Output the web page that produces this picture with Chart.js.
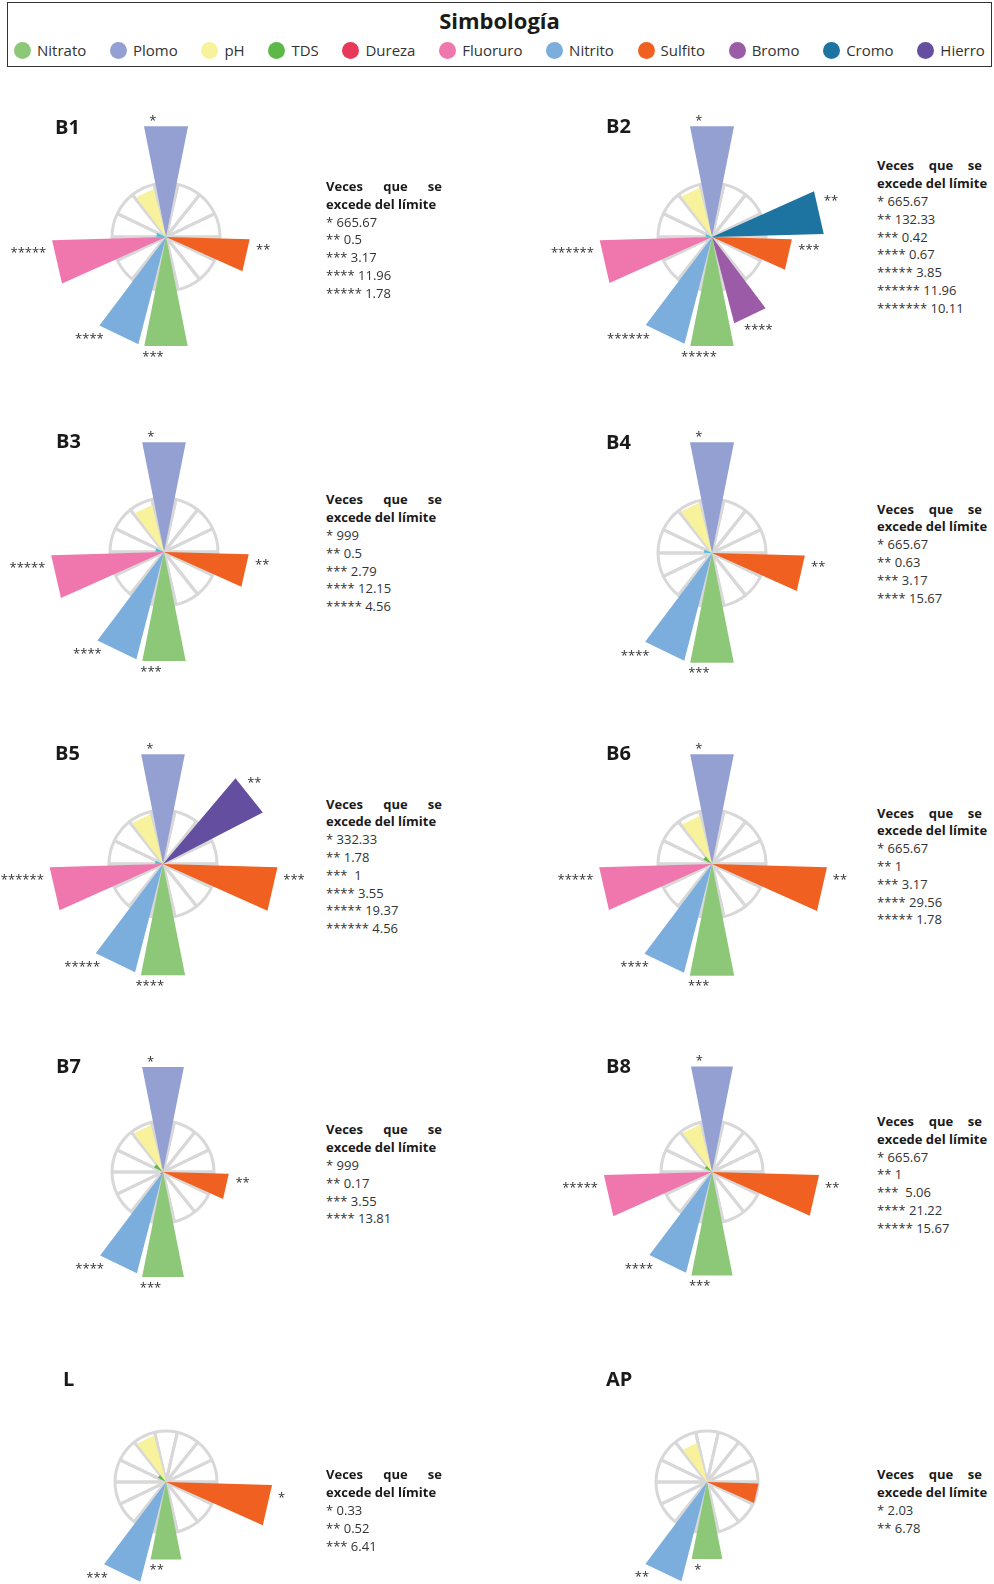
<!DOCTYPE html>
<html lang="es">
<head>
<meta charset="utf-8">
<script src="https://cdn.jsdelivr.net/npm/chart.js@4.4.1/dist/chart.umd.min.js"></script>
<style>
  html, body { margin:0; padding:0; background:#fff; }
  body { width:994px; height:1584px; position:relative; overflow:hidden; font-family:'Open Sans', sans-serif; color:#1a1a1a; }
  .legend { position:absolute; left:7px; top:2px; width:985px; height:65px; box-sizing:border-box; border:1.5px solid #333; }
  .legend .head { position:absolute; top:2px; width:100%; text-align:center; font-size:22px; font-weight:700; line-height:30px; }
  .legend .items { position:absolute; left:6px; right:6px; top:37px; display:flex; justify-content:space-between; }
  .item { display:flex; align-items:center; font-size:15px; line-height:20px; color:#333; }
  .dot { width:17px; height:17px; border-radius:50%; margin-right:6px; }
  canvas { position:absolute; z-index:1; }
  .ttl { position:absolute; font-size:20px; font-weight:700; line-height:24px; z-index:2; }
  .note { position:absolute; font-size:13px; line-height:17.8px; color:#333; z-index:2; white-space:pre; }
  .note .h { font-weight:700; color:#1a1a1a; }
  .note .j { text-align:justify; text-align-last:justify; white-space:normal; }
</style>
</head>
<body>
<div class="legend">
  <div class="head">Simbología</div>
  <div class="items" id="legendItems"></div>
</div>
<script>
// 14 sectors, clockwise from the top
const CATEGORIES = ['Plomo', '', 'Hierro', 'Cromo', 'Sulfito', '', 'Bromo', 'Nitrato', 'Nitrito', 'Dureza', 'Fluoruro', 'Otro', 'TDS', 'pH'];
const CAT_COLORS = ['#94a0d2', '#ffffff', '#644ea0', '#1d74a0', '#f06021', '#ffffff', '#9b5ba7', '#8dc878', '#7baddd', '#e8395b', '#ef77ad', '#46c2d4', '#5cb947', '#f8f29c'];

const LEGEND_NAMES = ['Nitrato','Plomo','pH','TDS','Dureza','Fluoruro','Nitrito','Sulfito','Bromo','Cromo','Hierro'];
const LEGEND_COLORS = ['#8dc878','#94a0d2','#f8f29c','#5cb947','#e8395b','#ef77ad','#7baddd','#f06021','#9b5ba7','#1d74a0','#644ea0'];

// radial length, grey circle = 1
const VALUES_B1 = [2.09,0,0,0,1.55,0,0,2.06,2.05,0,2.11,0.18,0,0.92];
const VALUES_B2 = [2.09,0,0,2.07,1.48,0,1.65,2.06,2.04,0,2.08,0.12,0,0.94];
const VALUES_B3 = [2.07,0,0,0,1.57,0,0,2.06,2.05,0,2.09,0.16,0,0.90];
const VALUES_B4 = [2.09,0,0,0,1.72,0,0,2.07,2.06,0,0,0.15,0,0.96];
const VALUES_B5 = [2.07,0,2.08,0,2.12,0,0,2.10,2.07,0,2.10,0.15,0,0.95];
const VALUES_B6 = [2.07,0,0,0,2.13,0,0,2.11,2.08,0,2.09,0,0.18,0.92];
const VALUES_B7 = [2.10,0,0,0,1.29,0,0,2.10,2.05,0.06,0,0,0.20,0.95];
const VALUES_B8 = [2.11,0,0,0,2.10,0,0,2.07,2.04,0,2.12,0,0.16,0.96];
const VALUES_L  = [0,0,0,0,2.08,0,0,1.55,2.02,0,0,0,0.18,0.94];
const VALUES_AP = [0,0,0,0,1.01,0,0,1.54,2.01,0,0,0,0,0.79];

const STARS_B1 = ['*','','','','**','','','***','****','','*****','','',''];
const STARS_B2 = ['*','','','**','***','','****','*****','******','','*******','','',''];
const STARS_B3 = ['*','','','','**','','','***','****','','*****','','',''];
const STARS_B4 = ['*','','','','**','','','***','****','','','','',''];
const STARS_B5 = ['*','','**','','***','','','****','*****','','******','','',''];
const STARS_B6 = ['*','','','','**','','','***','****','','*****','','',''];
const STARS_B7 = ['*','','','','**','','','***','****','','','','',''];
const STARS_B8 = ['*','','','','**','','','***','****','','*****','','',''];
const STARS_L  = ['','','','','*','','','**','***','','','','',''];
const STARS_AP = ['','','','','','','','*','**','','','','',''];

const NOTES_B1 = ['* 665.67','** 0.5','*** 3.17','**** 11.96','***** 1.78'];
const NOTES_B2 = ['* 665.67','** 132.33','*** 0.42','**** 0.67','***** 3.85','****** 11.96','******* 10.11'];
const NOTES_B3 = ['* 999','** 0.5','*** 2.79','**** 12.15','***** 4.56'];
const NOTES_B4 = ['* 665.67','** 0.63','*** 3.17','**** 15.67'];
const NOTES_B5 = ['* 332.33','** 1.78','***  1','**** 3.55','***** 19.37','****** 4.56'];
const NOTES_B6 = ['* 665.67','** 1','*** 3.17','**** 29.56','***** 1.78'];
const NOTES_B7 = ['* 999','** 0.17','*** 3.55','**** 13.81'];
const NOTES_B8 = ['* 665.67','** 1','***  5.06','**** 21.22','***** 15.67'];
const NOTES_L  = ['* 0.33','** 0.52','*** 6.41'];
const NOTES_AP = ['* 2.03','** 6.78'];

const SECTOR = 360 / CATEGORIES.length;
const GAP = 3.2;
const WEDGE = SECTOR - GAP;
const HALF = 162;

const panels = [
  { name:'B1', values:VALUES_B1, stars:STARS_B1, notes:NOTES_B1, cx:166, cy:237, unit:54, tx:55, ty:127, nx:326, ny:187.3, nw:116 },
  { name:'B2', values:VALUES_B2, stars:STARS_B2, notes:NOTES_B2, cx:712, cy:237, unit:54, tx:606, ty:126, nx:877, ny:166.7, nw:105 },
  { name:'B3', values:VALUES_B3, stars:STARS_B3, notes:NOTES_B3, cx:164, cy:552, unit:54, tx:56, ty:441.7, nx:326, ny:500.7, nw:116 },
  { name:'B4', values:VALUES_B4, stars:STARS_B4, notes:NOTES_B4, cx:712, cy:553, unit:54, tx:606, ty:442.3, nx:877, ny:510, nw:105 },
  { name:'B5', values:VALUES_B5, stars:STARS_B5, notes:NOTES_B5, cx:163, cy:864, unit:54, tx:55, ty:753.3, nx:326, ny:805, nw:116 },
  { name:'B6', values:VALUES_B6, stars:STARS_B6, notes:NOTES_B6, cx:712, cy:864, unit:54, tx:606, ty:753.3, nx:877, ny:814, nw:105 },
  { name:'B7', values:VALUES_B7, stars:STARS_B7, notes:NOTES_B7, cx:163, cy:1172, unit:51, tx:56, ty:1066.7, nx:326, ny:1130.7, nw:116 },
  { name:'B8', values:VALUES_B8, stars:STARS_B8, notes:NOTES_B8, cx:712, cy:1172, unit:51, tx:606, ty:1066.7, nx:877, ny:1122.3, nw:105 },
  { name:'L',  values:VALUES_L,  stars:STARS_L,  notes:NOTES_L,  cx:166, cy:1482, unit:51, tx:63, ty:1379.3, nx:326, ny:1475.7, nw:116 },
  { name:'AP', values:VALUES_AP, stars:STARS_AP, notes:NOTES_AP, cx:707, cy:1482, unit:51, tx:606, ty:1379.3, nx:877, ny:1475.7, nw:105 },
];

// asterisk marks next to the outer edge of each wedge
const starLabels = {
  id: 'stars',
  afterDatasetsDraw(chart, args, opts) {
    const ctx = chart.ctx;
    const meta = chart.getDatasetMeta(0);
    ctx.save();
    ctx.font = '13px "Open Sans"';
    ctx.fillStyle = '#333';
    ctx.textBaseline = 'middle';
    meta.data.forEach((el, i) => {
      if (i % 2 === 0) return;
      const s = opts.labels[(i - 1) / 2];
      if (!s) return;
      const {x, y, startAngle, endAngle, outerRadius: r} = el.getProps(['x','y','startAngle','endAngle','outerRadius'], true);
      const a = [x + r * Math.cos(startAngle), y + r * Math.sin(startAngle)];
      const b = [x + r * Math.cos(endAngle), y + r * Math.sin(endAngle)];
      const [p, q] = (a[0] + a[1] <= b[0] + b[1]) ? [a, b] : [b, a];
      const mid = (startAngle + endAngle) / 2;
      const dx = Math.cos(mid), dy = Math.sin(mid);
      ctx.textAlign = dx > 0.3 ? 'left' : (dx < -0.3 ? 'right' : 'center');
      ctx.fillText(s, p[0] + (q[0] - p[0]) * 0.2 + dx * 8, p[1] + (q[1] - p[1]) * 0.2 + dy * 8 + 3);
    });
    ctx.restore();
  }
};

function buildLegend() {
  const box = document.getElementById('legendItems');
  LEGEND_NAMES.forEach((n, i) => {
    const it = document.createElement('div');
    it.className = 'item';
    it.innerHTML = '<span class="dot" style="background:' + LEGEND_COLORS[i] + '"></span>' + n;
    box.appendChild(it);
  });
}

function makePanel(p) {
  const t = document.createElement('div');
  t.className = 'ttl';
  t.textContent = p.name;
  t.style.left = p.tx + 'px';
  t.style.top = (p.ty - 12.5) + 'px';
  document.body.appendChild(t);

  const n = document.createElement('div');
  n.className = 'note';
  n.style.left = p.nx + 'px';
  n.style.top = (p.ny - 9.3) + 'px';
  n.innerHTML = '<div class="h j" style="width:' + p.nw + 'px">Veces que se</div><div class="h">excede del límite</div>' +
    p.notes.map(s => '<div>' + s + '</div>').join('');
  document.body.appendChild(n);

  const cv = document.createElement('canvas');
  cv.width = HALF * 2; cv.height = HALF * 2;
  cv.style.left = (p.cx - HALF) + 'px';
  cv.style.top = (p.cy - HALF) + 'px';
  document.body.appendChild(cv);

  // wedges interleaved with empty gap slices
  const wedgeData = [0], wedgeCols = ['rgba(0,0,0,0)'], labels = [''];
  p.values.forEach((v, k) => {
    wedgeData.push(v); wedgeCols.push(CAT_COLORS[k]); labels.push(CATEGORIES[k]);
    if (k < p.values.length - 1) { wedgeData.push(0); wedgeCols.push('rgba(0,0,0,0)'); labels.push(''); }
  });

  new Chart(cv, {
    type: 'polarArea',
    data: { labels, datasets: [
      { data: wedgeData, backgroundColor: wedgeCols, borderWidth: 0, circular: false,
        angle: c => c.dataIndex === 0 ? GAP / 2 : (c.dataIndex % 2 ? WEDGE : GAP) },
      { data: CATEGORIES.map(() => 1), backgroundColor: 'rgba(0,0,0,0)', borderColor: '#d8d8d8', borderWidth: 3 }
    ]},
    options: { responsive: false, animation: false, events: [],
      plugins: { legend: { display: false }, tooltip: { enabled: false }, stars: { labels: p.stars } },
      scales: { r: { min: 0, max: HALF / p.unit, startAngle: -SECTOR / 2,
        ticks: { display: false }, grid: { display: false }, angleLines: { display: false }, pointLabels: { display: false } } } },
    plugins: [starLabels]
  });
}

buildLegend();
panels.forEach(makePanel);
</script>
</body>
</html>
